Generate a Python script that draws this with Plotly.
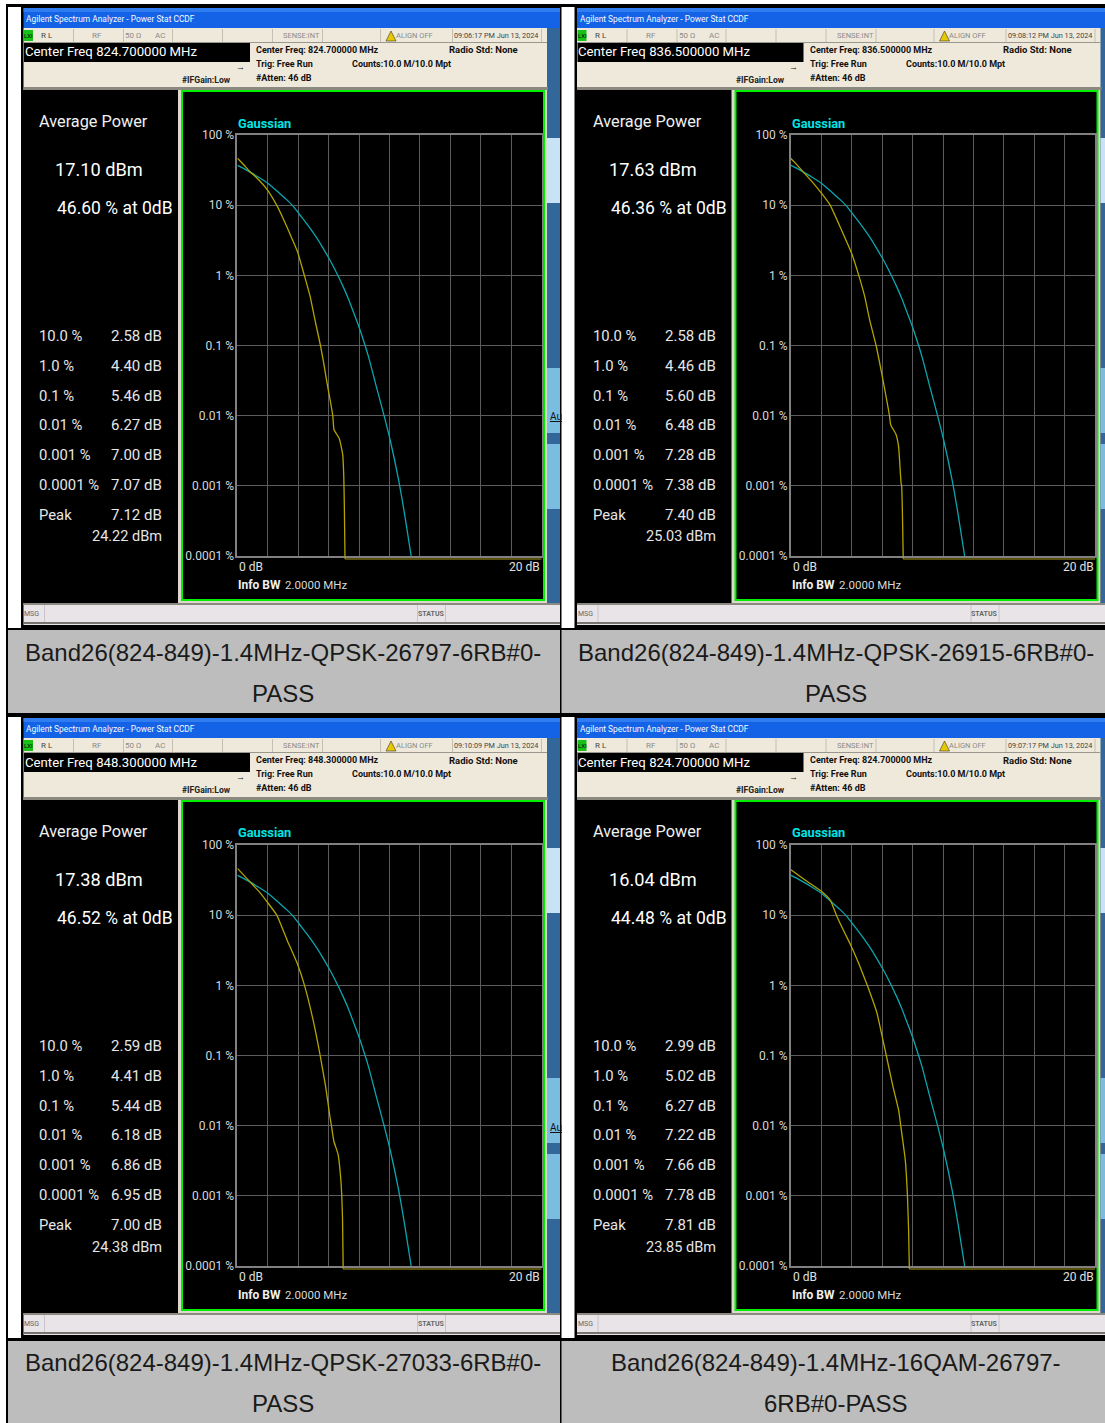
import plotly.graph_objects as go

# ---------- data ----------
band_captions = [
    ["Band26(824-849)-1.4MHz-QPSK-26797-6RB#0-", "PASS"],
    ["Band26(824-849)-1.4MHz-QPSK-26915-6RB#0-", "PASS"],
    ["Band26(824-849)-1.4MHz-QPSK-27033-6RB#0-", "PASS"],
    ["Band26(824-849)-1.4MHz-16QAM-26797-", "6RB#0-PASS"],
]
center_freqs = ["824.700000", "836.500000", "848.300000", "824.700000"]
timestamps = ["09:06:17 PM Jun 13, 2024", "09:08:12 PM Jun 13, 2024",
              "09:10:09 PM Jun 13, 2024", "09:07:17 PM Jun 13, 2024"]
avg_power = ["17.10 dBm", "17.63 dBm", "17.38 dBm", "16.04 dBm"]
pct_at_0db = ["46.60 % at 0dB", "46.36 % at 0dB", "46.52 % at 0dB", "44.48 % at 0dB"]
stat_labels = ["10.0 %", "1.0 %", "0.1 %", "0.01 %", "0.001 %", "0.0001 %", "Peak"]
stat_values = [
    ["2.58 dB", "4.40 dB", "5.46 dB", "6.27 dB", "7.00 dB", "7.07 dB", "7.12 dB"],
    ["2.58 dB", "4.46 dB", "5.60 dB", "6.48 dB", "7.28 dB", "7.38 dB", "7.40 dB"],
    ["2.59 dB", "4.41 dB", "5.44 dB", "6.18 dB", "6.86 dB", "6.95 dB", "7.00 dB"],
    ["2.99 dB", "5.02 dB", "6.27 dB", "7.22 dB", "7.66 dB", "7.78 dB", "7.81 dB"],
]
peak_power = ["24.22 dBm", "25.03 dBm", "24.38 dBm", "23.85 dBm"]
y_tick_vals = [100, 10, 1, 0.1, 0.01, 0.001, 0.0001]
y_tick_text = ["100 %", "10 %", "1 %", "0.1 %", "0.01 %", "0.001 %", "0.0001 %"]

gauss_db = [0, 0.4, 0.81, 1.4, 2.02, 2.78, 3.2, 3.66, 4.1, 4.54, 4.9, 5.3, 5.6, 5.96, 6.3, 6.62, 6.95, 7.28, 7.6, 7.94, 8.25, 8.62, 9.1, 9.64, 10.04, 10.6, 11.0, 11.42]
gauss_pct = [37, 33.5, 29.8, 25, 20.4, 14.7, 12.2, 9.7, 7.3, 5.5, 4.3, 3.2, 2.5, 1.84, 1.35, 0.98, 0.69, 0.47, 0.31, 0.197, 0.125, 0.069, 0.0275, 0.01, 0.0045, 0.0012, 0.00038, 0.0001]

sig1_db = [0, 0.4, 0.83, 1.4, 1.97, 2.58, 3.0, 3.45, 3.94, 4.40, 4.78, 5.1, 5.46, 5.65, 5.87, 6.09, 6.27, 6.35, 6.7, 6.92, 6.99, 7.03, 7.07]
sig1_pct = [46.6, 38, 30, 23, 16.5, 10, 6.5, 3.9, 2.2, 1, 0.5, 0.23, 0.1, 0.06, 0.031, 0.017, 0.01, 0.0063, 0.0047, 0.0028, 0.0014, 0.0005, 0.0001]
sig2_db = [0, 0.4, 0.81, 1.4, 2.02, 2.58, 3.33, 3.99, 4.46, 4.85, 5.2, 5.60, 5.97, 6.29, 6.48, 6.56, 6.91, 7.08, 7.24, 7.28, 7.33, 7.38]
sig2_pct = [46.36, 37.5, 29.8, 21.5, 14.7, 10, 4.4, 2.06, 1, 0.5, 0.22, 0.1, 0.04, 0.017, 0.01, 0.0074, 0.0054, 0.0036, 0.0011, 0.001, 0.0004, 0.0001]
sig3_db = [0, 0.4, 0.83, 1.4, 1.95, 2.59, 3.27, 3.93, 4.41, 5.02, 5.44, 5.8, 6.08, 6.18, 6.34, 6.62, 6.78, 6.86, 6.91, 6.95]
sig3_pct = [46.52, 37.5, 29.8, 22, 15.5, 10, 4.4, 2.06, 1, 0.29, 0.1, 0.036, 0.0135, 0.01, 0.006, 0.0039, 0.0019, 0.001, 0.00046, 0.0001]
sig4_db = [0, 1.0, 2.04, 2.59, 2.99, 3.5, 3.95, 4.5, 5.02, 5.66, 6.0, 6.27, 6.71, 7.08, 7.22, 7.52, 7.66, 7.74, 7.78]
sig4_pct = [44.48, 31, 21.6, 16.4, 10, 5.8, 3.67, 1.95, 1, 0.4, 0.186, 0.1, 0.036, 0.0167, 0.01, 0.0032, 0.001, 0.0003, 0.0001]
sig_db = [sig1_db, sig2_db, sig3_db, sig4_db]
sig_pct = [sig1_pct, sig2_pct, sig3_pct, sig4_pct]

# ---------- page geometry ----------
W, H = 1105, 1423
FONT = "Roboto"
PANEL_DX = [0, 553.5, 0, 553.5]
PANEL_DY = [0, 0, 710, 710]

shapes, annots = [], []
def px(x): return x / W
def py(y): return 1 - y / H
def rect(x0, y0, x1, y1, color):
    shapes.append(dict(type="rect", xref="paper", yref="paper", layer="below",
                       x0=px(x0), x1=px(x1), y0=py(y1), y1=py(y0),
                       fillcolor=color, line=dict(width=0)))
def text(x, y, s, size=11, color="#111111", anchor="left", font=FONT):
    annots.append(dict(xref="paper", yref="paper", x=px(x), y=py(y), text=s, showarrow=False,
                       xanchor=anchor, yanchor="middle", borderpad=0, borderwidth=0,
                       font=dict(family=font, size=size, color=color)))

# table skeleton
rect(6, 4, W, 1423, "#000000")
for (cx0, cx1) in [(8, 560), (561.5, W)]:
    for (ry0, ry1) in [(7, 628), (717, 1338)]:
        rect(cx0, ry0, cx1, ry1, "#ffffff")
    for (ry0, ry1) in [(630, 713), (1341, 1423)]:
        rect(cx0, ry0, cx1, ry1, "#bdbdbd")

CAPTION_CX = [282.5, 835.5, 282.5, 835.5]
CAPTION_Y = [652, 693, 1362, 1403]

fig = go.Figure()
PX0, PX1, PY0, PY1 = 237.4, 541.7, 135, 556

for i in range(4):
    dx, dy = PANEL_DX[i], PANEL_DY[i]
    def X(v): return v + dx
    def Y(v): return v + dy
    # window
    rect(X(21), Y(7), X(560), Y(628), "#000000")
    rect(X(23.5), Y(8), X(560), Y(28), "#1463e6")
    rect(X(23.5), Y(8), X(560), Y(12), "#2f7df0")
    text(X(26), Y(19), "Agilent Spectrum Analyzer - Power Stat CCDF", 8.4, "#f4f8ff")
    rect(X(23.5), Y(28), X(548), Y(90), "#efe9dc")
    rect(X(547), Y(28), X(560), Y(625), "#336699")
    rect(X(23.5), Y(87), X(548), Y(90), "#8c8a80")
    # status strip
    rect(X(23.5), Y(42), X(547), Y(43), "#9a988e")
    for sep in [73, 123, 172, 222, 272, 322, 380, 452, 541]:
        rect(X(sep), Y(29), X(sep + 1), Y(42), "#c4c0b4")
    rect(X(24), Y(30), X(33), Y(41), "#18c018")
    text(X(28.5), Y(35.5), "LXI", 6, "#000000", "center")
    text(X(41), Y(35.5), "R L", 8, "#444444")
    text(X(97), Y(35.5), "RF", 8, "#8a8a8a", "center")
    text(X(133), Y(35.5), "50 Ω", 8, "#8a8a8a", "center")
    text(X(160), Y(35.5), "AC", 8, "#8a8a8a", "center")
    text(X(302), Y(35.5), "SENSE:INT", 7.5, "#8a8a8a", "center")
    shapes.append(dict(type="path", xref="paper", yref="paper", layer="below",
                       path=f"M {px(X(386))} {py(Y(41))} L {px(X(391))} {py(Y(31))} L {px(X(396))} {py(Y(41))} Z",
                       fillcolor="#e8c800", line=dict(color="#333333", width=0.6)))
    text(X(396), Y(35.5), "ALIGN OFF", 7.5, "#8a8a8a")
    text(X(454), Y(35.5), timestamps[i], 7.3, "#444444")
    # centre freq box
    rect(X(24), Y(43), X(250), Y(62), "#000000")
    text(X(24.5), Y(52), f"Center Freq {center_freqs[i]} MHz", 13.2, "#ffffff")
    text(X(240), Y(67), "→", 9, "#222222", "center")
    text(X(231), Y(80), "<b>#IFGain:Low</b>", 8.6, "#222222", "right")
    text(X(256), Y(50), f"<b>Center Freq: {center_freqs[i]} MHz</b>", 9, "#111111")
    text(X(256), Y(64), "<b>Trig: Free Run</b>", 9, "#111111")
    text(X(256), Y(78), "<b>#Atten: 46 dB</b>", 9, "#111111")
    text(X(352), Y(64), "<b>Counts:10.0 M/10.0 Mpt</b>", 9, "#111111")
    text(X(449), Y(50), "<b>Radio Std: None</b>", 9.5, "#111111")
    # left black panel
    rect(X(23.5), Y(90), X(178), Y(601), "#000000")
    rect(X(178), Y(90), X(547), Y(603), "#dcd8cc")
    rect(X(181), Y(90), X(545), Y(601), "#00f000")
    rect(X(183), Y(92), X(543), Y(599), "#000000")
    text(X(39), Y(121), "Average Power", 16.3, "#f0f0f0")
    text(X(99), Y(169), avg_power[i], 18.2, "#ffffff", "center")
    text(X(173), Y(208), pct_at_0db[i], 17.5, "#ffffff", "right")
    for lab, val, yy in zip(stat_labels, stat_values[i], [336, 366, 396, 425, 455, 485, 515]):
        text(X(39), Y(yy), lab, 14.8, "#e6e6e6")
        text(X(162), Y(yy), val, 15, "#e6e6e6", "right")
    text(X(162), Y(537), peak_power[i], 14.5, "#e6e6e6", "right")
    # graph captions
    text(X(238), Y(123), "<b>Gaussian</b>", 12.8, "#00e4e4")
    text(X(239), Y(567), "0 dB", 12, "#e0e0e0")
    text(X(540), Y(567), "20 dB", 12, "#e0e0e0", "right")
    text(X(238), Y(585), "<b>Info BW</b>", 12, "#f0f0f0")
    text(X(285), Y(585), "2.0000 MHz", 11.5, "#d8d8d8")
    # side soft keys
    rect(X(547), Y(138), X(560), Y(203), "#c8e3f6")
    rect(X(547), Y(368), X(560), Y(433), "#7abde0")
    rect(X(547), Y(444), X(560), Y(509), "#7abde0")
    if dx == 0:
        text(X(550), Y(417), "<u>Au</u>", 10, "#111111")
    # bottom status bar
    rect(X(23.5), Y(603), X(560), Y(625), "#e8e4e8")
    rect(X(23.5), Y(603), X(560), Y(605), "#8c8a80")
    rect(X(23.5), Y(622), X(560), Y(624), "#77756f")
    for sep in [44, 417, 445]:
        rect(X(sep), Y(605), X(sep + 1), Y(622), "#c8c4c8")
    text(X(24), Y(613.5), "MSG", 7, "#666666")
    text(X(431), Y(613.5), "<b>STATUS</b>", 7, "#666666", "center")
    # caption
    cy = CAPTION_Y[2 * (i // 2)], CAPTION_Y[2 * (i // 2) + 1]
    for line, yy in zip(band_captions[i], cy):
        text(CAPTION_CX[i], yy, line, 24, "#1a1a1a", "center", "Liberation Sans")

    # chart
    n = "" if i == 0 else str(i + 1)
    fig.add_trace(go.Scatter(x=gauss_db, y=gauss_pct, mode="lines", xaxis=f"x{n}", yaxis=f"y{n}",
                             line=dict(color="#0aa6b0", width=1.3, shape="spline", smoothing=0.6),
                             cliponaxis=False, hoverinfo="skip"))
    fig.add_trace(go.Scatter(x=sig_db[i], y=sig_pct[i], mode="lines", xaxis=f"x{n}", yaxis=f"y{n}",
                             line=dict(color="#b3a400", width=1.3, shape="spline", smoothing=0.4),
                             cliponaxis=False, hoverinfo="skip"))
    # noise-floor run of the measured trace, just under the axis line
    shapes.append(dict(type="line", xref=f"x{n}", yref="paper", layer="above",
                       x0=sig_db[i][-1], x1=20, y0=py(Y(559)), y1=py(Y(559)),
                       line=dict(color="#d8c820", width=0.8)))
    shapes.append(dict(type="line", xref=f"x{n}", yref="paper", layer="above",
                       x0=sig_db[i][-1], x1=sig_db[i][-1], y0=py(Y(556)), y1=py(Y(559)),
                       line=dict(color="#b3a400", width=1)))
    fig.layout[f"xaxis{n}"] = dict(domain=[px(X(PX0)), min(1, px(X(PX1)))], anchor=f"y{n}", range=[0, 20], dtick=2,
                                   showticklabels=False, ticks="", showgrid=True, gridcolor="#5c5c5c", gridwidth=1,
                                   zeroline=False, showline=True, mirror=True, linecolor="#808080", linewidth=2)
    fig.layout[f"yaxis{n}"] = dict(domain=[py(Y(PY1)), py(Y(PY0))], anchor=f"x{n}", type="log", range=[-4, 2],
                                   tickmode="array", tickvals=y_tick_vals, ticktext=y_tick_text, ticks="",
                                   ticklabelstandoff=-1,
                                   tickfont=dict(family=FONT, size=12, color="#d8d8d8"),
                                   showgrid=True, gridcolor="#5c5c5c", gridwidth=1, zeroline=False,
                                   showline=True, mirror=True, linecolor="#808080", linewidth=2)

fig.update_layout(width=W, height=H, autosize=False,
                  margin=dict(l=0, r=0, t=0, b=0, pad=0, autoexpand=False),
                  paper_bgcolor="#ffffff", plot_bgcolor="#000000", showlegend=False,
                  shapes=shapes, annotations=annots)
fig.write_html("out.html", config={"displayModeBar": False},
               post_script="document.body.style.margin='0';document.body.style.overflow='hidden';")
